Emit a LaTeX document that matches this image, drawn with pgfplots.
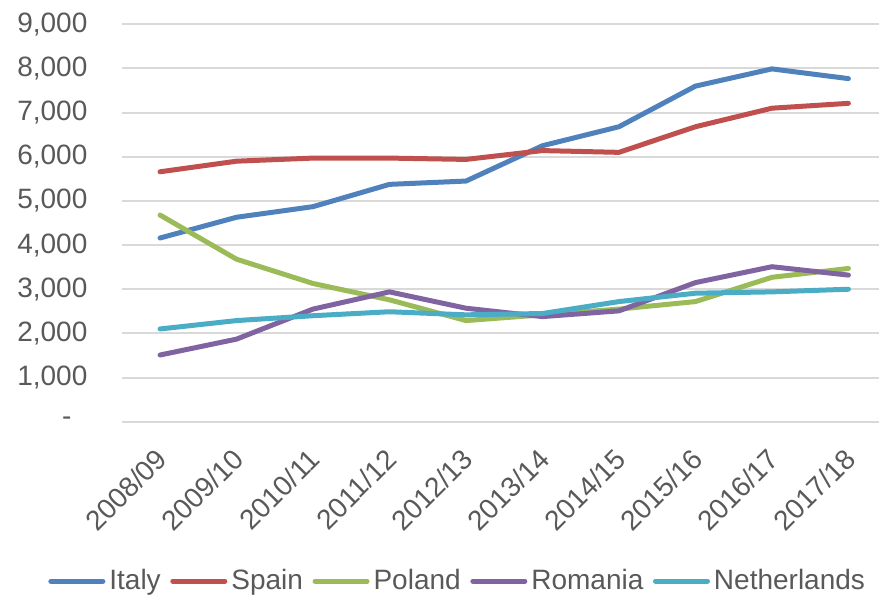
\documentclass[border=0pt]{standalone}
\usepackage{fontspec}
\setmainfont{Liberation Sans}
\usepackage{pgfplots}
\pgfplotsset{compat=1.18}
\definecolor{cItaly}{HTML}{4F81BD}
\definecolor{cSpain}{HTML}{C0504D}
\definecolor{cPoland}{HTML}{9BBB59}
\definecolor{cRomania}{HTML}{8064A2}
\definecolor{cNeth}{HTML}{4BACC6}
\definecolor{gridgray}{HTML}{D9D9D9}
\definecolor{txtgray}{HTML}{595959}
\pgfplotstableread{
x Italy Spain Poland Romania Netherlands
0 4160 5660 4680 1510 2100
1 4630 5900 3680 1870 2290
2 4870 5970 3130 2550 2400
3 5375 5970 2760 2940 2490
4 5450 5940 2290 2570 2420
5 6250 6140 2420 2380 2450
6 6680 6100 2550 2510 2720
7 7600 6680 2720 3150 2910
8 7990 7100 3270 3510 2940
9 7770 7210 3470 3320 3000
}\datatable
\begin{document}
\begin{tikzpicture}
\begin{axis}[
  name=ax,
  scale only axis,
  width=378.6pt, height=198.7pt,
  xmin=-0.5, xmax=9.4, ymin=0, ymax=9000,
  clip=false,
  xtick={0,...,9},
  xticklabels={2008/09,2009/10,2010/11,2011/12,2012/13,2013/14,2014/15,2015/16,2016/17,2017/18},
  ytick={0,1000,...,9000},
  yticklabels={{-\hspace*{8pt}},{1,000},{2,000},{3,000},{4,000},{5,000},{6,000},{7,000},{8,000},{9,000}},
  axis line style={draw=none},
  tick style={draw=none},
  ymajorgrids,
  grid style={color=gridgray, line width=1pt},
  tick label style={font=\fontsize{14}{16}\selectfont, text=txtgray},
  y tick label style={anchor=east, inner sep=0pt, xshift=-17pt},
  x tick label style={xshift=-2.8pt, yshift=-12.2pt, rotate=45, anchor=north east, inner sep=0pt},
  legend style={draw=none, fill=none, at={(-0.0975,-0.401)}, anchor=west,
    font=\fontsize{14}{16}\selectfont, text=txtgray, inner xsep=0pt,
    nodes={inner xsep=2pt},
    /tikz/every even column/.append style={column sep=2.8pt}},
  legend columns=-1,
  legend image code/.code={\draw[#1, line width=2.5pt, line cap=round] (0pt,0pt) -- (26pt,0pt);},
  every axis plot/.append style={line width=2.5pt, line join=round, line cap=round},
]
\addplot[color=cItaly] table[x=x, y=Italy] {\datatable};
\addlegendentry{Italy}
\addplot[color=cSpain] table[x=x, y=Spain] {\datatable};
\addlegendentry{Spain}
\addplot[color=cPoland] table[x=x, y=Poland] {\datatable};
\addlegendentry{Poland}
\addplot[color=cRomania] table[x=x, y=Romania] {\datatable};
\addlegendentry{Romania}
\addplot[color=cNeth] table[x=x, y=Netherlands] {\datatable};
\addlegendentry{Netherlands}
\end{axis}
\pgfresetboundingbox
\path[use as bounding box] ([shift={(-60.9pt,-86.65pt)}]ax.south west) rectangle ([shift={(0pt,12.15pt)}]ax.north east);
\end{tikzpicture}
\end{document}
